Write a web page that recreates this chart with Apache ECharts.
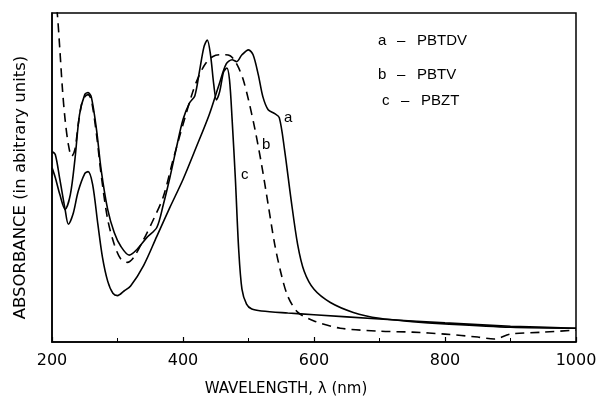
<!DOCTYPE html>
<html><head><meta charset="utf-8">
<script src="https://cdn.jsdelivr.net/npm/echarts@6/dist/echarts.min.js"></script>
<style>html,body{margin:0;padding:0;background:#fff}#c{width:601px;height:402px}</style>
</head><body><div id="c"></div>
<script>
// Curve a: PBTDV (solid)
var aWl = [200,205,212,220,225,232,240,250,255,262,270,277,285,293,300,310,320,340,360,380,400,420,440,455,466,475,482,490,500,507,515,522,530,540,547,555,565,575,585,600,625,660,700,750,800,900,1000];
var aAbs = [0.579,0.57,0.494,0.403,0.358,0.388,0.458,0.512,0.518,0.479,0.358,0.258,0.185,0.148,0.141,0.155,0.170,0.233,0.321,0.409,0.494,0.591,0.691,0.782,0.845,0.858,0.852,0.873,0.888,0.873,0.812,0.745,0.706,0.694,0.682,0.585,0.433,0.297,0.215,0.160,0.120,0.090,0.072,0.062,0.055,0.045,0.042];
// Curve b: PBTV (dashed)
var bWl = [200,208,212,216,220,225,230,235,240,245,250,255,260,268,275,285,295,305,315,325,340,355,370,385,400,415,425,435,445,455,465,472,478,485,492,500,510,520,530,540,550,560,575,600,640,700,750,800,850,875,900,950,1000];
var bAbs = [1.15,1.0,0.888,0.767,0.676,0.6,0.564,0.585,0.661,0.721,0.745,0.752,0.736,0.630,0.509,0.373,0.297,0.252,0.242,0.258,0.312,0.373,0.442,0.555,0.661,0.761,0.812,0.848,0.867,0.873,0.873,0.870,0.858,0.833,0.797,0.736,0.645,0.539,0.418,0.297,0.206,0.139,0.091,0.064,0.042,0.033,0.030,0.024,0.015,0.009,0.024,0.030,0.036];
// Curve c: PBZT (solid)
var cWl = [200,205,212,220,228,235,242,250,255,260,268,275,285,295,305,318,330,345,360,370,380,390,400,410,418,425,432,437,442,447,451,456,462,467,471,475,480,485,490,497,505,520,560,600,700,800,900,1000];
var cAbs = [0.530,0.50,0.448,0.403,0.448,0.555,0.691,0.752,0.758,0.745,0.645,0.524,0.403,0.333,0.291,0.264,0.282,0.318,0.348,0.418,0.5,0.591,0.676,0.727,0.748,0.821,0.897,0.918,0.873,0.782,0.736,0.761,0.821,0.833,0.797,0.676,0.494,0.282,0.161,0.115,0.1,0.094,0.088,0.083,0.070,0.058,0.048,0.042];

var xTicks = [200,400,600,800,1000];
var legendKeys = ['a','b','c'];
var legendNames = ['PBTDV','PBTV','PBZT'];
var curveTags = ['a','b','c'];

function zip(x,y){return x.map(function(v,i){return [v,y[i]];});}

var chart = echarts.init(document.getElementById('c'));
var FONT = '"DejaVu Sans", Arial, sans-serif';
var LFONT = '"Liberation Sans", Arial, sans-serif';
var lineStyleBase = {color:'#000', width:1.6};
var legendY = [33,67,93];
var graphics = [];
for (var i=0;i<3;i++){
  var x0 = i===2?382:378;
  graphics.push({type:'text',left:x0,top:legendY[i],style:{text:legendKeys[i],fill:'#000',font:'15px '+LFONT}});
  graphics.push({type:'text',left:x0+19,top:legendY[i],style:{text:'\u2013',fill:'#000',font:'15px '+LFONT}});
  graphics.push({type:'text',left:x0+39,top:legendY[i],style:{text:legendNames[i],fill:'#000',font:'15px '+LFONT}});
}
graphics.push({type:'text',left:284,top:110,style:{text:curveTags[0],fill:'#000',font:'15px '+LFONT}});
graphics.push({type:'text',left:262,top:137,style:{text:curveTags[1],fill:'#000',font:'15px '+LFONT}});
graphics.push({type:'text',left:241,top:167,style:{text:curveTags[2],fill:'#000',font:'15px '+LFONT}});

chart.setOption({
  animation:false,
  backgroundColor:'#fff',
  grid:{left:52,right:25,top:13,bottom:59,show:true,borderColor:'#000',borderWidth:1.5,backgroundColor:'transparent'},
  xAxis:{type:'value',min:200,max:1000,interval:200,
    axisLine:{show:true,lineStyle:{color:'#000',width:1.5}},
    axisTick:{show:true,inside:true,length:5,lineStyle:{color:'#000',width:1.2}},
    minorTick:{show:true,splitNumber:2,length:4,lineStyle:{color:'#000',width:1}},
    splitLine:{show:false},
    axisLabel:{color:'#000',fontSize:16,fontFamily:FONT,margin:11,
      formatter:function(v){return xTicks.indexOf(v)>=0?String(v):'';}},
    name:'WAVELENGTH, \u03bb (nm)',nameLocation:'middle',nameGap:40,
    nameTextStyle:{color:'#000',fontSize:15,fontFamily:FONT,padding:[0,56,0,0]}},
  yAxis:{type:'value',min:0,max:1,
    axisLine:{show:true,lineStyle:{color:'#000',width:1.5}},
    axisTick:{show:false},axisLabel:{show:false},splitLine:{show:false},
    name:'ABSORBANCE (in abitrary units)',nameLocation:'middle',nameGap:23,
    nameTextStyle:{color:'#000',fontSize:16.5,fontFamily:FONT,padding:[0,20,0,0]}},
  series:[
    {name:'PBTDV',type:'line',data:zip(aWl,aAbs),showSymbol:false,smooth:0.3,clip:true,
      lineStyle:Object.assign({},lineStyleBase)},
    {name:'PBTV',type:'line',data:zip(bWl,bAbs),showSymbol:false,smooth:0.3,clip:true,
      lineStyle:Object.assign({},lineStyleBase,{type:[9,6]})},
    {name:'PBZT',type:'line',data:zip(cWl,cAbs),showSymbol:false,smooth:0.3,clip:true,
      lineStyle:Object.assign({},lineStyleBase)}
  ],
  graphic:graphics
});
</script></body></html>
